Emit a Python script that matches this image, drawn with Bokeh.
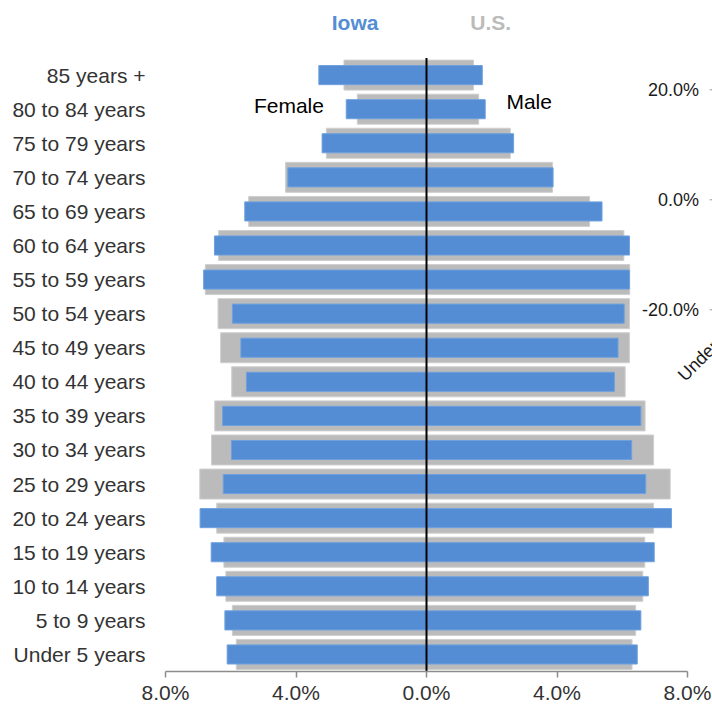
from bokeh.plotting import figure
from bokeh.models import (Range1d, FixedTicker, CustomJSTickFormatter, Label,
                          ColumnDataSource)
from bokeh.embed import file_html
from bokeh.resources import INLINE

# ---------------- data (percent of population) ----------------
age_groups = ["Under 5 years", "5 to 9 years", "10 to 14 years", "15 to 19 years",
              "20 to 24 years", "25 to 29 years", "30 to 34 years", "35 to 39 years",
              "40 to 44 years", "45 to 49 years", "50 to 54 years", "55 to 59 years",
              "60 to 64 years", "65 to 69 years", "70 to 74 years", "75 to 79 years",
              "80 to 84 years", "85 years +"]
iowa_female = [6.11, 6.18, 6.43, 6.60, 6.94, 6.23, 5.98, 6.25, 5.52, 5.69, 5.95, 6.83,
               6.50, 5.57, 4.25, 3.20, 2.46, 3.30]
iowa_male = [6.46, 6.57, 6.80, 6.98, 7.51, 6.72, 6.29, 6.57, 5.76, 5.87, 6.06, 6.22,
             6.22, 5.38, 3.88, 2.67, 1.80, 1.71]
us_female = [5.83, 5.95, 6.15, 6.21, 6.43, 6.95, 6.59, 6.49, 5.97, 6.31, 6.39, 6.78,
             6.37, 5.45, 4.32, 3.07, 2.12, 2.53]
us_male = [6.30, 6.41, 6.63, 6.69, 6.96, 7.47, 6.96, 6.70, 6.09, 6.22, 6.22, 6.23,
           6.05, 5.00, 3.86, 2.57, 1.60, 1.44]
x_ticks = [-8, -4, 0, 4, 8]
side_ticks = [20, 0, -20]

BLUE = "#548DD4"
GRAY = "#BBBBBB"
FONT = "Liberation Sans"

n = len(age_groups)
idx = list(range(n))
src = ColumnDataSource(dict(
    y=idx,
    iowa_f=[-v for v in iowa_female], iowa_m=iowa_male,
    us_f=[-v for v in us_female], us_m=us_male,
    zero=[0] * n,
))

FRAME_W, FRAME_H = 547, 671
p = figure(frame_width=FRAME_W, frame_height=FRAME_H,
           output_backend="svg", toolbar_location=None,
           x_range=Range1d(-8, 8 + 25 / 32.625),
           y_range=Range1d(-0.5, FRAME_H / 34.08 - 0.5),
           min_border_left=165, min_border_right=0, min_border_top=0,
           min_border_bottom=37)
p.outline_line_color = None
p.xgrid.visible = False
p.ygrid.visible = False
p.background_fill_color = "white"

# U.S. (wide gray) bars
p.hbar(y="y", left="us_f", right="zero", height=0.88, source=src,
       fill_color=GRAY, line_color="#CFCFCF", line_width=1)
p.hbar(y="y", left="zero", right="us_m", height=0.88, source=src,
       fill_color=GRAY, line_color="#CFCFCF", line_width=1)
# Iowa (narrow blue) bars
p.hbar(y="y", left="iowa_f", right="zero", height=0.56, source=src,
       fill_color=BLUE, line_color="#6FA0DE", line_width=1)
p.hbar(y="y", left="zero", right="iowa_m", height=0.56, source=src,
       fill_color=BLUE, line_color="#6FA0DE", line_width=1)

# center (zero) line spanning the category band
p.segment(x0=[0], y0=[-0.5], x1=[0], y1=[n - 0.5], line_color="black", line_width=2)

# x axis
xa = p.xaxis[0]
xa.bounds = (x_ticks[0], x_ticks[-1])
xa.ticker = FixedTicker(ticks=x_ticks)
xa.formatter = CustomJSTickFormatter(code="return Math.abs(tick).toFixed(1) + '%';")
xa.axis_line_color = "#8C8C8C"
xa.axis_line_width = 1.5
xa.major_tick_line_color = "#8C8C8C"
xa.major_tick_line_width = 1.5
xa.major_tick_in = 0
xa.major_tick_out = 6
xa.minor_tick_line_color = None
xa.major_label_standoff = 3
xa.major_label_text_font = FONT
xa.major_label_text_font_size = "21px"
xa.major_label_text_color = "#333333"

# y axis with age-group labels
ya = p.yaxis[0]
ya.ticker = FixedTicker(ticks=idx)
ya.major_label_overrides = {i: name for i, name in zip(idx, age_groups)}
ya.axis_line_color = None
ya.major_tick_line_color = None
ya.minor_tick_line_color = None
ya.major_label_standoff = 14
ya.major_label_text_font = FONT
ya.major_label_text_font_size = "21px"
ya.major_label_text_color = "#333333"

# stray side axis (partly visible second chart)
p.extra_y_ranges = {"side": Range1d(-(FRAME_H - 199.3) / 5.5, 199.3 / 5.5)}
p.segment(x0=[8.68] * len(side_ticks), x1=[8.8] * len(side_ticks),
          y0=side_ticks, y1=side_ticks, y_range_name="side",
          line_color="#999999", line_width=1)
for t in side_ticks:
    p.add_layout(Label(x=8.35, y=t, y_range_name="side", text=f"{t:.1f}%",
                       text_align="right", text_baseline="middle",
                       text_font=FONT, text_font_size="18px", text_color="#1A1A1A"))
p.add_layout(Label(x=7.80, y=8.11, text="Under 5 years", angle=45, angle_units="deg",
                   text_align="left", text_baseline="alphabetic",
                   text_font=FONT, text_font_size="18px", text_color="#1A1A1A"))

# series / side labels
p.add_layout(Label(x=-2.19, y=18.54, text="Iowa", text_align="center",
                   text_baseline="middle", text_font=FONT, text_font_size="21px",
                   text_font_style="bold", text_color=BLUE))
p.add_layout(Label(x=1.97, y=18.54, text="U.S.", text_align="center",
                   text_baseline="middle", text_font=FONT, text_font_size="21px",
                   text_font_style="bold", text_color=GRAY))
p.add_layout(Label(x=-5.29, y=16.1, text="Female", text_align="left",
                   text_baseline="middle", text_font=FONT, text_font_size="21px",
                   text_color="black"))
p.add_layout(Label(x=2.45, y=16.24, text="Male", text_align="left",
                   text_baseline="middle", text_font=FONT, text_font_size="21px",
                   text_color="black"))

open("out.html", "w").write(file_html(p, INLINE))
